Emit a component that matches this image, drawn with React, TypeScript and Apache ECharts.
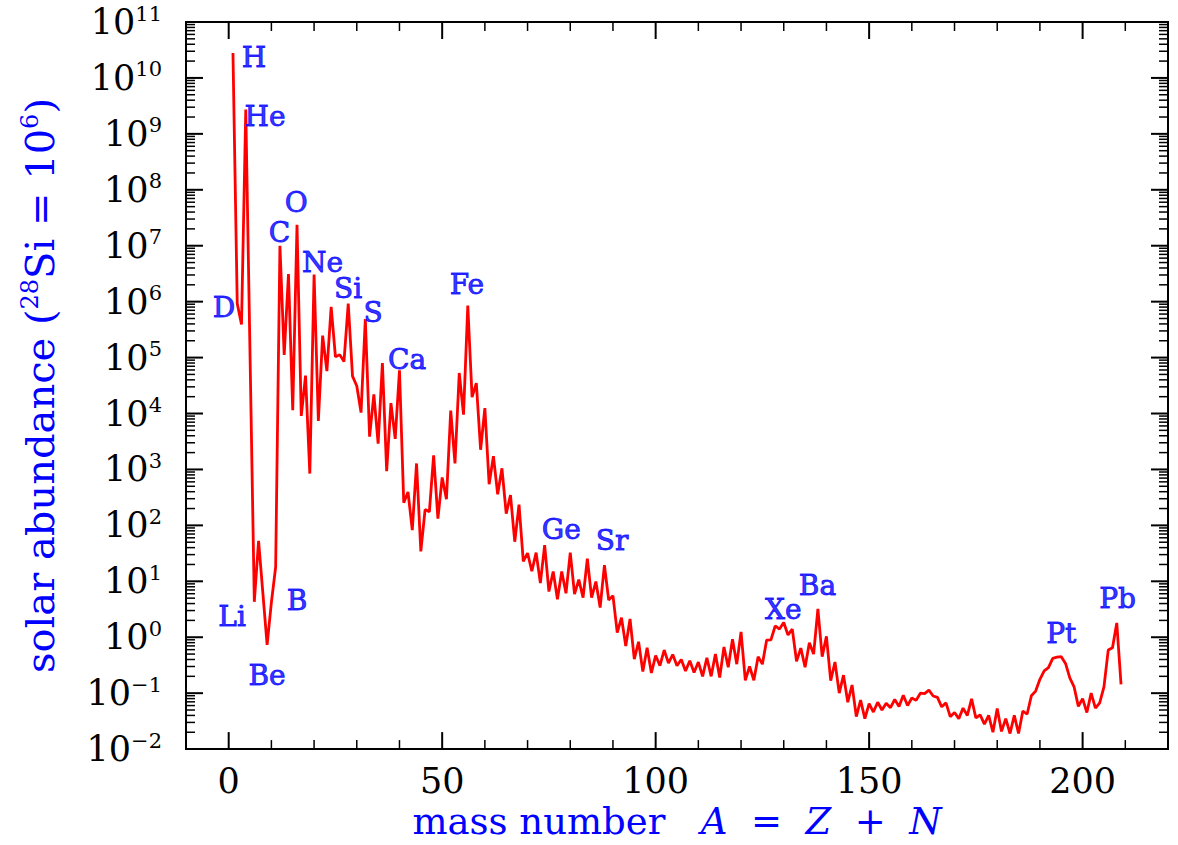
import React, { useEffect, useRef } from "react";
import * as echarts from "echarts";

// Mass numbers A (no stable nuclei at A = 5 and A = 8)
const massNumbers = [
  1, 2, 3, 4, 6, 7, 9, 10,
  11, 12, 13, 14, 15, 16, 17, 18, 19, 20,
  21, 22, 23, 24, 25, 26, 27, 28, 29, 30,
  31, 32, 33, 34, 35, 36, 37, 38, 39, 40,
  41, 42, 43, 44, 45, 46, 47, 48, 49, 50,
  51, 52, 53, 54, 55, 56, 57, 58, 59, 60,
  61, 62, 63, 64, 65, 66, 67, 68, 69, 70,
  71, 72, 73, 74, 75, 76, 77, 78, 79, 80,
  81, 82, 83, 84, 85, 86, 87, 88, 89, 90,
  91, 92, 93, 94, 95, 96, 97, 98, 99, 100,
  101, 102, 103, 104, 105, 106, 107, 108, 109, 110,
  111, 112, 113, 114, 115, 116, 117, 118, 119, 120,
  121, 122, 123, 124, 125, 126, 127, 128, 129, 130,
  131, 132, 133, 134, 135, 136, 137, 138, 139, 140,
  141, 142, 143, 144, 145, 146, 147, 148, 149, 150,
  151, 152, 153, 154, 155, 156, 157, 158, 159, 160,
  161, 162, 163, 164, 165, 166, 167, 168, 169, 170,
  171, 172, 173, 174, 175, 176, 177, 178, 179, 180,
  181, 182, 183, 184, 185, 186, 187, 188, 189, 190,
  191, 192, 193, 194, 195, 196, 197, 198, 199, 200,
  201, 202, 203, 204, 205, 206, 207, 208, 209,
];

// Solar abundance per mass number (28Si = 10^6)
const abundances = [
  2.79e10, 9.3e5, 3.9e5, 2.72e9, 4.3, 53, 0.73, 4.2,
  18, 1.0e7, 1.12e5, 3.12e6, 1.15e4, 2.37e7, 9.04e3, 4.75e4, 843, 3.06e6,
  7.34e3, 2.47e5, 5.74e4, 8.1e5, 1.03e5, 1.13e5, 8.49e4, 9.22e5, 4.67e4, 3.1e4,
  1.04e4, 4.89e5, 3.87e3, 2.19e4, 2.9e3, 8.0e4, 930, 1.53e4, 3.51e3, 5.9e4,
  254, 395, 82.5, 1.28e3, 34.2, 192, 175, 1.78e3, 132, 718,
  293, 1.13e4, 1.28e3, 5.3e4, 9.55e3, 8.48e5, 1.96e4, 3.5e4, 2.25e3, 1.25e4,
  543, 1.73e3, 360, 1.05e3, 162, 347, 51, 235, 22.7, 32,
  15.1, 32.6, 9.3, 44.4, 6.56, 15, 4.77, 15, 6.1, 32.6,
  5.9, 10.7, 5.1, 25.3, 5.1, 9.9, 3.4, 19.4, 4.64, 5.55,
  1.21, 2.23, 0.698, 2.12, 0.406, 0.83, 0.243, 0.65, 0.23, 0.47,
  0.31, 0.59, 0.344, 0.49, 0.31, 0.4, 0.25, 0.38, 0.235, 0.36,
  0.2, 0.43, 0.2, 0.5, 0.19, 0.67, 0.29, 0.92, 0.33, 1.25,
  0.17, 0.3, 0.17, 0.45, 0.33, 0.89, 0.9, 1.59, 1.4, 1.83,
  1.1, 1.4, 0.372, 0.64, 0.29, 0.8, 0.5, 3.2, 0.45, 1.04,
  0.167, 0.36, 0.1, 0.21, 0.069, 0.14, 0.038, 0.075, 0.035, 0.065,
  0.046, 0.069, 0.05, 0.066, 0.055, 0.077, 0.058, 0.092, 0.06, 0.082,
  0.0743, 0.1, 0.098, 0.113, 0.089, 0.084, 0.057, 0.067, 0.038, 0.045,
  0.035, 0.054, 0.04, 0.079, 0.036, 0.041, 0.028, 0.04, 0.02, 0.053,
  0.0207, 0.035, 0.019, 0.04, 0.019, 0.048, 0.042, 0.09, 0.109, 0.177,
  0.25, 0.286, 0.42, 0.44, 0.45, 0.34, 0.187, 0.13, 0.058, 0.08,
  0.045, 0.1, 0.054, 0.067, 0.13, 0.59, 0.65, 1.8, 0.144,
];

// Element annotations: name and anchor (mass number, abundance)
const elementNames = ["H", "He", "O", "C", "Ne", "Si", "D", "S", "Ca", "Fe", "Ge", "Sr", "Xe", "Ba", "Pt", "Pb", "Li", "B", "Be"];
const elementMass = [5.9, 8.5, 15.8, 11.9, 22.0, 27.95, -1.1, 33.8, 41.8, 55.8, 77.9, 89.8, 129.9, 137.9, 195.0, 208.2, 0.8, 16.0, 9.0];
const elementAbund = [2.72e10, 2.45e9, 7.1e7, 2.0e7, 5.9e6, 2.0e6, 9.1e5, 7.4e5, 1.1e5, 2.4e6, 100, 62, 3.7, 9.8, 1.38, 5.75, 2.75, 5.3, 0.24];

// Axis ticks
const xTickLabels = [0, 50, 100, 150, 200];
const xMinorStep = 10;
const xMin = -10;
const xMax = 220;
const yDecadeExponents = [-2, -1, 0, 1, 2, 3, 4, 5, 6, 7, 8, 9, 10, 11];
const yMinorMultipliers = [2, 3, 4, 5, 6, 7, 8, 9];

const SERIF = "'DejaVu Serif', 'Liberation Serif', serif";
const BLUE = "#0000ff";

export default function App() {
  const ref = useRef<HTMLDivElement>(null);

  useEffect(() => {
    if (!ref.current) return;
    const chart = echarts.init(ref.current, undefined, { renderer: "svg" });

    const decadeValues = yDecadeExponents.map((e) => Math.pow(10, e));
    const yMin = decadeValues[0];
    const yMax = decadeValues[decadeValues.length - 1];

    // tick marks: [x, y, kind(0=x,1=y), major(1/0)]
    const tickData: number[][] = [];
    for (let v = xMin + xMinorStep; v < xMax; v += xMinorStep) {
      tickData.push([v, 1, 0, v % 50 === 0 ? 1 : 0]);
    }
    yDecadeExponents.forEach((e) => {
      const base = Math.pow(10, e);
      if (e > yDecadeExponents[0] && e < yDecadeExponents[yDecadeExponents.length - 1]) {
        tickData.push([0, base, 1, 1]);
      }
      if (e < yDecadeExponents[yDecadeExponents.length - 1]) {
        yMinorMultipliers.forEach((m) => tickData.push([0, m * base, 1, 0]));
      }
    });

    const supers = (e: number) => (e < 0 ? "\u2212" + String(-e) : String(e));

    const option: any = {
      animation: false,
      backgroundColor: "#ffffff",
      grid: {
        left: 186,
        right: 10,
        top: 22,
        bottom: 88,
        show: true,
        borderColor: "#000",
        borderWidth: 2,
        backgroundColor: "transparent",
      },
      xAxis: {
        type: "value",
        min: xMin,
        max: xMax,
        axisLine: { show: false },
        axisTick: { show: false },
        splitLine: { show: false },
        axisLabel: {
          customValues: xTickLabels,
          formatter: (v: number) => String(v),
          fontFamily: SERIF,
          fontSize: 35,
          color: "#000",
          margin: 14,
        },
        name: "{t|mass number   }{i|A}{t|  =  }{i|Z}{t|  +  }{i|N}",
        nameLocation: "middle",
        nameGap: 51,
        nameTextStyle: {
          color: BLUE,
          rich: {
            t: { fontFamily: SERIF, fontSize: 37, color: BLUE, lineHeight: 40 },
            i: { fontFamily: SERIF, fontSize: 37, fontStyle: "italic", color: BLUE, lineHeight: 40 },
          },
        },
      },
      yAxis: {
        type: "log",
        logBase: 10,
        min: yMin,
        max: yMax,
        axisLine: { show: false },
        axisTick: { show: false },
        splitLine: { show: false },
        minorTick: { show: false },
        axisLabel: {
          customValues: decadeValues,
          formatter: (v: number) => `{b|10}{s|${supers(Math.round(Math.log10(v)))}}`,
          margin: 24,
          rich: {
            b: { fontFamily: SERIF, fontSize: 35, color: "#000", lineHeight: 38 },
            s: { fontFamily: SERIF, fontSize: 21, color: "#000", lineHeight: 22, verticalAlign: "top" },
          },
        },
        name: "{t|solar abundance (}{s|28}{t|Si = 10}{s|6}{t|)}",
        nameLocation: "middle",
        nameGap: 124,
        nameTextStyle: {
          color: BLUE,
          rich: {
            t: { fontFamily: SERIF, fontSize: 40, color: BLUE, lineHeight: 44 },
            s: { fontFamily: SERIF, fontSize: 24, color: BLUE, lineHeight: 24, verticalAlign: "top" },
          },
        },
      },
      series: [
        {
          type: "line",
          data: massNumbers.map((a, i) => [a, abundances[i]]),
          showSymbol: false,
          symbol: "none",
          lineStyle: { color: "#ff0000", width: 2.8 },
          z: 3,
        },
        {
          type: "scatter",
          data: elementNames.map((n, i) => ({ name: n, value: [elementMass[i], elementAbund[i]] })),
          symbolSize: 0,
          label: {
            show: true,
            position: "inside",
            offset: [0, 4],
            formatter: (p: any) => p.name,
            fontFamily: SERIF,
            fontSize: 28,
            color: BLUE,
            textBorderColor: BLUE,
            textBorderWidth: 0.9,
          },
          z: 4,
        },
        {
          type: "custom",
          data: tickData,
          clip: false,
          silent: true,
          z: 5,
          renderItem: (params: any, api: any) => {
            const cs = params.coordSys;
            const kind = api.value(2);
            const major = api.value(3) === 1;
            const len = major ? 17 : 9;
            const style = { stroke: "#000", lineWidth: major ? 2 : 1.5 };
            if (kind === 0) {
              const x = api.coord([api.value(0), 1])[0];
              const bottom = cs.y + cs.height;
              return {
                type: "group",
                children: [
                  { type: "line", shape: { x1: x, y1: bottom, x2: x, y2: bottom - len }, style },
                  { type: "line", shape: { x1: x, y1: cs.y, x2: x, y2: cs.y + len }, style },
                ],
              };
            }
            const y = api.coord([0, api.value(1)])[1];
            const right = cs.x + cs.width;
            return {
              type: "group",
              children: [
                { type: "line", shape: { x1: cs.x, y1: y, x2: cs.x + len, y2: y }, style },
                { type: "line", shape: { x1: right, y1: y, x2: right - len, y2: y }, style },
              ],
            };
          },
        },
      ],
    };

    chart.setOption(option);
    return () => chart.dispose();
  }, []);

  return (
    <div
      ref={ref}
      style={{ position: "fixed", left: 0, top: 0, width: 1178, height: 845, background: "#fff" }}
    />
  );
}
